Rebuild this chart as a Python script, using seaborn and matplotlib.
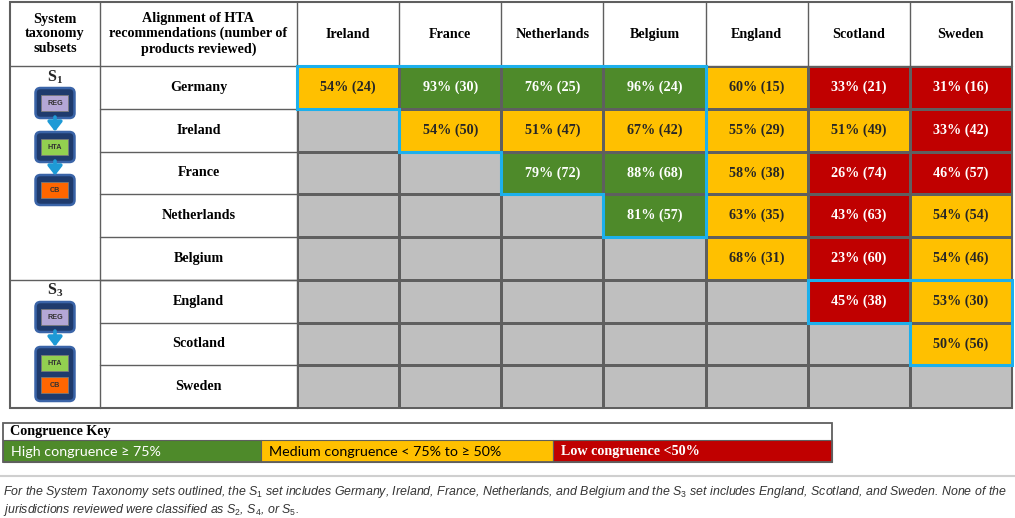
import numpy as np
import pandas as pd
import matplotlib
matplotlib.use("Agg")
import matplotlib.pyplot as plt
import seaborn as sns
from matplotlib.colors import ListedColormap
from matplotlib.patches import Rectangle, FancyBboxPatch, Polygon

sns.set_theme(style="white")
plt.rcParams["font.family"] = ["Liberation Serif", "DejaVu Serif"]
plt.rcParams["mathtext.fontset"] = "custom"
plt.rcParams["mathtext.rm"] = "Liberation Sans"
plt.rcParams["mathtext.it"] = "Liberation Sans:italic"
plt.rcParams["mathtext.bf"] = "Liberation Serif:bold"

# ---------------- data ----------------
row_names = ["Germany", "Ireland", "France", "Netherlands", "Belgium",
             "England", "Scotland", "Sweden"]
col_names = ["Ireland", "France", "Netherlands", "Belgium",
             "England", "Scotland", "Sweden"]
pct = [
    [54, 93, 76, 96, 60, 33, 31],
    [None, 54, 51, 67, 55, 51, 33],
    [None, None, 79, 88, 58, 26, 46],
    [None, None, None, 81, 63, 43, 54],
    [None, None, None, None, 68, 23, 54],
    [None, None, None, None, None, 45, 53],
    [None, None, None, None, None, None, 50],
    [None, None, None, None, None, None, None],
]
n_reviewed = [
    [24, 30, 25, 24, 15, 21, 16],
    [None, 50, 47, 42, 29, 49, 42],
    [None, None, 72, 68, 38, 74, 57],
    [None, None, None, 57, 35, 63, 54],
    [None, None, None, None, 31, 60, 46],
    [None, None, None, None, None, 38, 30],
    [None, None, None, None, None, None, 56],
    [None, None, None, None, None, None, None],
]
subset_labels = [r"$\mathbf{S_1}$", r"$\mathbf{S_3}$"]
subset_sizes = [5, 3]            # number of jurisdictions in each subset
high_cut, mid_cut = 75, 50
key_labels = ["High congruence \u2265 75%",
              "Medium congruence < 75% to \u2265 50%",
              "Low congruence <50%"]
header_left = "System\ntaxonomy\nsubsets"
header_mid = "Alignment of HTA\nrecommendations (number of\nproducts reviewed)"
footnote1 = ("For the System Taxonomy sets outlined, the $S_1$ set includes Germany, Ireland, "
             "France, Netherlands, and Belgium and the $S_3$ set includes England, Scotland, "
             "and Sweden. None of the")
footnote2 = "jurisdictions reviewed were classified as $S_2$, $S_4$, or $S_5$."

# ---------------- styles ----------------
GRAY, RED, YEL, GRN = "#BFBFBF", "#C00000", "#FFC000", "#4E8A2A"
BLUE = "#1DB0EC"
LINE = "#5F5F5F"
W, H = 1015, 518
X0, X1, X2, X3 = 10, 100, 297, 1012
Y0, Y1, Y3 = 2, 66, 408
cw = (X3 - X2) / len(col_names)
rh = (Y3 - Y1) / len(row_names)
bold_serif = dict(family=["Liberation Serif", "DejaVu Serif"], fontweight="bold",
                  fontsize=10.2, color="black")

# category codes: 0 empty, 1 low, 2 medium, 3 high
codes = np.zeros((len(row_names), len(col_names)))
labels = np.full(codes.shape, "", dtype=object)
for i in range(len(row_names)):
    for j in range(len(col_names)):
        p = pct[i][j]
        if p is None:
            continue
        codes[i, j] = 3 if p >= high_cut else (2 if p >= mid_cut else 1)
        labels[i, j] = f"{p}% ({n_reviewed[i][j]})"
codes_df = pd.DataFrame(codes, index=row_names, columns=col_names)

fig = plt.figure(figsize=(W / 100, H / 100), dpi=100)
fig.patch.set_facecolor("white")

# overlay in pixel coordinates
ov = fig.add_axes([0, 0, 1, 1], zorder=0)
ov.set_xlim(0, W)
ov.set_ylim(H, 0)
ov.axis("off")

# heatmap of data cells
ax = fig.add_axes([X2 / W, 1 - Y3 / H, (X3 - X2) / W, (Y3 - Y1) / H], zorder=2)
sns.heatmap(codes_df, ax=ax, cmap=ListedColormap([GRAY, RED, YEL, GRN]),
            vmin=-0.5, vmax=3.5, cbar=False, annot=labels, fmt="",
            linewidths=1, linecolor=LINE, xticklabels=False, yticklabels=False,
            annot_kws=dict(fontsize=10.2, fontweight="bold",
                           family=["Liberation Serif", "DejaVu Serif"]))
ax.set_xlabel("")
ax.set_ylabel("")

# blue staircase outlines of subsets
start = 0
for size in subset_sizes:
    a, e = start, start + size - 1
    if e > a:
        pts = [(a, a), (e, a)]
        for k in range(e, a, -1):
            pts += [(k, k), (k - 1, k)]
        ax.add_patch(Polygon(pts, closed=True, fill=False, edgecolor=BLUE,
                             lw=2.2, clip_on=False, zorder=5, joinstyle="miter"))
    start += size

# ---------------- table frame ----------------
ov.add_patch(Rectangle((X0, Y0), X3 - X0, Y3 - Y0, fill=False, ec=LINE, lw=1.5))
ov.plot([X0, X3], [Y1, Y1], color=LINE, lw=1)
ov.plot([X1, X1], [Y0, Y3], color=LINE, lw=1)
ov.plot([X2, X2], [Y0, Y3], color=LINE, lw=1)
for j in range(1, len(col_names)):
    x = X2 + j * cw
    ov.plot([x, x], [Y0, Y1], color=LINE, lw=1)
for i in range(1, len(row_names)):
    y = Y1 + i * rh
    ov.plot([X1, X2], [y, y], color=LINE, lw=1)
ov.plot([X0, X2], [Y1 + subset_sizes[0] * rh] * 2, color=LINE, lw=1)

# headers
ov.text((X0 + X1) / 2, (Y0 + Y1) / 2, header_left, ha="center", va="center",
        linespacing=1.15, **bold_serif)
ov.text((X1 + X2) / 2, (Y0 + Y1) / 2, header_mid, ha="center", va="center",
        linespacing=1.15, **bold_serif)
for j, c in enumerate(col_names):
    ov.text(X2 + (j + 0.5) * cw, (Y0 + Y1) / 2 + 0.5, c, ha="center", va="center", **bold_serif)
for i, r in enumerate(row_names):
    ov.text((X1 + X2) / 2, Y1 + (i + 0.5) * rh, r, ha="center", va="center", **bold_serif)

# ---------------- icons ----------------
NAVY, NAVY_EDGE = "#1F3B6D", "#3A64A8"
ARROW = "#1E9AD6"
inner_cols = {"REG": "#B4A7D6", "HTA": "#92D050", "CB": "#FF6600"}
cx = (X0 + X1) / 2


def outer(y, h):
    ov.add_patch(FancyBboxPatch((cx - 17, y + 2.5), 34, h - 5,
                                boxstyle="round,pad=2.5,rounding_size=5",
                                fc=NAVY, ec=NAVY_EDGE, lw=1.8))


def inner(y, name):
    ov.add_patch(Rectangle((cx - 13.5, y), 27, 16, fc=inner_cols[name],
                           ec="#7A7A7A", lw=0.6))
    ov.text(cx, y + 8.3, name, ha="center", va="center", fontsize=5.2,
            family=["Liberation Sans", "DejaVu Sans"], fontweight="bold", color="#333333")


def arrow(y0, y1):
    ov.annotate("", xy=(cx, y1), xytext=(cx, y0),
                arrowprops=dict(arrowstyle="-|>,head_length=0.45,head_width=0.35",
                                color=ARROW, lw=2.6,
                                mutation_scale=12, shrinkA=0, shrinkB=0))


# S1 icon: REG -> HTA -> CB
ov.text(cx, Y1 + 11, subset_labels[0], ha="center", va="center", fontsize=11.5)
for k, (name, y) in enumerate(zip(["REG", "HTA", "CB"], [88, 132, 175])):
    outer(y, 30)
    inner(y + 7, name)
    if k < 2:
        arrow(y + 29, y + 43.5)

# S3 icon: REG -> [HTA + CB]
yS3 = Y1 + subset_sizes[0] * rh
ov.text(cx, yS3 + 11, subset_labels[1], ha="center", va="center", fontsize=11.5)
outer(302, 30)
inner(309, "REG")
arrow(331, 346.5)
outer(347, 54)
inner(355, "HTA")
inner(377, "CB")

# ---------------- congruence key ----------------
KX = [3, 261, 553, 832]
KY0, KY1, KY2 = 423, 440, 462
key_fc = [GRN, YEL, RED]
key_tc = ["white", "black", "white"]
for k in range(3):
    ov.add_patch(Rectangle((KX[k], KY1), KX[k + 1] - KX[k], KY2 - KY1,
                           fc=key_fc[k], ec=LINE, lw=0.8))
    if k < 2:
        ov.text(KX[k] + 8, (KY1 + KY2) / 2 + 0.5, key_labels[k], ha="left", va="center",
                fontsize=10.3, family=["Lato", "DejaVu Sans"], color=key_tc[k])
    else:
        ov.text(KX[k] + 8, (KY1 + KY2) / 2, key_labels[k], ha="left", va="center",
                fontsize=10.2, fontweight="bold",
                family=["Liberation Serif", "DejaVu Serif"], color=key_tc[k])
ov.add_patch(Rectangle((KX[0], KY0), KX[-1] - KX[0], KY2 - KY0, fill=False, ec=LINE, lw=1.3))
ov.text(KX[0] + 7, (KY0 + KY1) / 2, "Congruence Key", ha="left", va="center", **bold_serif)

# ---------------- footnote ----------------
ov.plot([0, W], [476, 476], color="#CFCFCF", lw=1.5)
foot_kw = dict(ha="left", va="center", fontsize=8.9, fontstyle="italic",
               family=["Liberation Sans", "DejaVu Sans"], color="#333333")
ov.text(3, 492, footnote1, **foot_kw)
ov.text(3, 510, footnote2, **foot_kw)

fig.savefig("out.png", dpi=100, facecolor="white")
